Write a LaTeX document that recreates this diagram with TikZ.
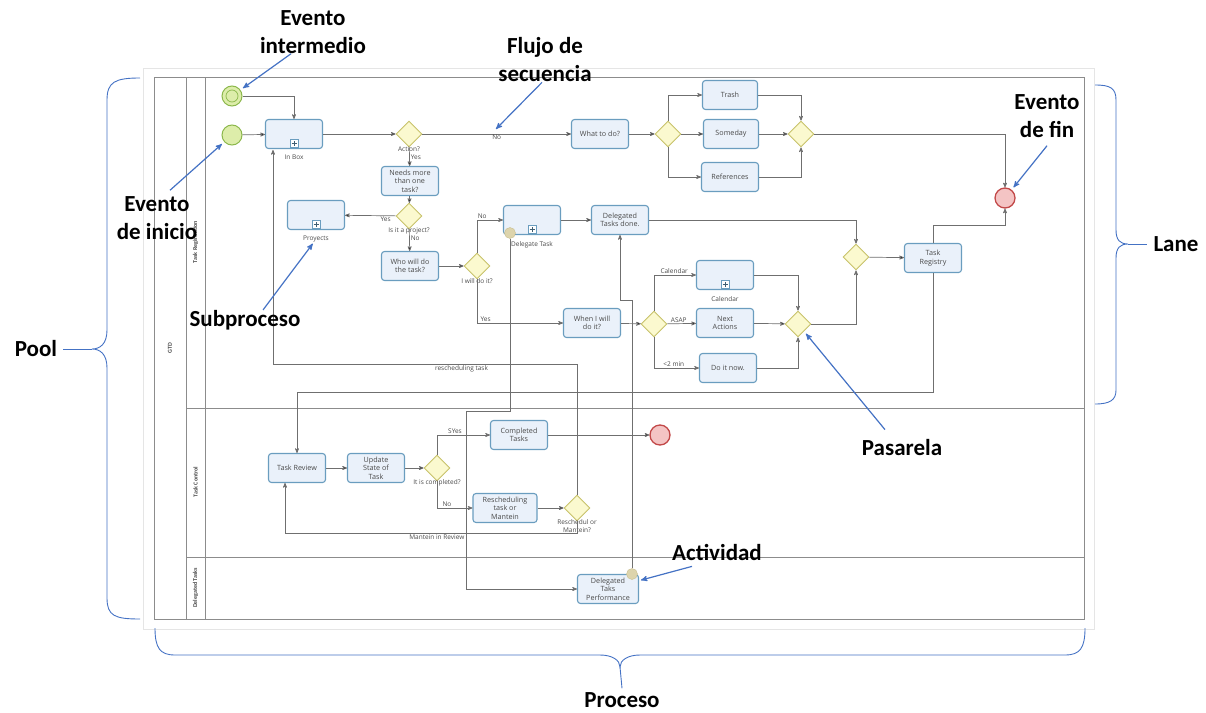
\documentclass[tikz,border=0pt]{standalone}
\usepackage{fontspec}
\setmainfont{Open Sans}
\newfontfamily\notefont{Carlito}
\usetikzlibrary{arrows,shapes.geometric,positioning}

\definecolor{taskline}{HTML}{6A9DBF}
\definecolor{taskfill}{HTML}{EAF1FA}
\definecolor{gwline}{HTML}{C8C26A}
\definecolor{gwfill}{HTML}{FBF9CF}
\definecolor{flowc}{HTML}{6F6F6F}
\definecolor{startline}{HTML}{8CB84C}
\definecolor{startfill}{HTML}{DDEDAA}
\definecolor{endline}{HTML}{C24848}
\definecolor{endfill}{HTML}{F4C4C4}
\definecolor{bndline}{HTML}{C9BE8E}
\definecolor{bndfill}{HTML}{DDD4AC}
\definecolor{noteblue}{HTML}{4472C4}
\definecolor{poolc}{HTML}{8C8C8C}
\definecolor{txt}{HTML}{4A4A4A}

\tikzset{
  task/.style={rectangle, rounded corners=3pt, draw=taskline, line width=1.1pt,
    fill=taskfill, minimum width=57pt, minimum height=29pt, inner sep=1pt,
    align=center, font=\fontsize{7.2}{8.4}\selectfont, text=txt},
  subproc/.style={task, path picture={
    \draw[sharp corners, taskline, fill=white, line width=0.6pt]
      ([xshift=-4pt,yshift=1.5pt]path picture bounding box.south) rectangle ++(8pt,8pt);
    \draw[sharp corners, taskline!60!black, line width=0.7pt]
      ([yshift=3pt]path picture bounding box.south) -- ++(0pt,5pt)
      ([xshift=-2.5pt,yshift=5.5pt]path picture bounding box.south) -- ++(5pt,0pt);}},
  gw/.style={diamond, draw=gwline, fill=gwfill, line width=0.9pt,
    minimum width=26pt, minimum height=26pt, inner sep=0pt},
  startev/.style={circle, draw=startline, fill=startfill, line width=1pt,
    minimum size=20pt, inner sep=0pt},
  endev/.style={circle, draw=endline, fill=endfill, line width=1.3pt,
    minimum size=20pt, inner sep=0pt},
  bnd/.style={circle, draw=bndline, fill=bndfill, minimum size=11pt, inner sep=0pt},
  lbl/.style={font=\fontsize{6.5}{7.5}\selectfont, text=txt, inner sep=1pt, align=center},
  flow/.style={->, >=stealth', draw=flowc, line width=0.7pt},
  note/.style={font=\notefont\bfseries\fontsize{23}{28}\selectfont, align=center, inner sep=0pt},
  callout/.style={->, >=stealth', draw=noteblue, line width=1.2pt},
  brace/.style={draw=noteblue, line width=0.9pt},
  lanelbl/.style={rotate=90, font=\notefont\bfseries\fontsize{6}{7}\selectfont, text=txt},
}

\begin{document}
\begin{tikzpicture}[x=1pt,y=-1pt]
\useasboundingbox (0,0) rectangle (1206,712);

% pool and lanes
\draw[black!10] (143,68) rectangle (1094,629);
\draw[poolc, line width=0.8pt] (154,77) rectangle (1084,619);
\draw[poolc, line width=0.8pt] (186,77) -- (186,619) (205,77) -- (205,619);
\draw[poolc, line width=0.8pt] (186,408) -- (1084,408) (186,557) -- (1084,557);
\node[lanelbl] (gtd) at (170,348) {GTD};
\node[lanelbl] (laneReg) at (195.5,242) {Task Registration};
\node[lanelbl] (laneCtl) at (195.5,482) {Task Control};
\node[lanelbl] (laneDel) at (195.5,588) {Delegated Tasks};

% lane: task registration
\node[startev] (mid) at (232,96) {};
\node[circle, draw=startline, line width=0.7pt, minimum size=12pt, inner sep=0pt] (midIn) at (mid) {};
\node[startev] (start) at (232,135) {};
\node[subproc] (inbox) at (294,134) {};
\node[lbl, below=5pt of inbox] (lInbox) {In Box};
\node[gw] (gAction) at (409,134) {};
\node[lbl, below=-2pt of gAction] (lAction) {Action?};
\node[task] (needs) at (410,181) {Needs more\\than one\\task?};
\node[gw] (gProj) at (409,216) {};
\node[lbl, below=-3pt of gProj] (lProj) {Is it a project?};
\node[subproc] (proy) at (316,215) {};
\node[lbl, below=5pt of proy] (lProy) {Proyects};
\node[task] (who) at (410,266) {Who will do\\the task?};
\node[gw] (gDo) at (477,266) {};
\node[lbl, below=-2pt of gDo] (lDo) {I will do it?};
\node[subproc] (deleg) at (532,220) {};
\node[bnd] (bDeleg) at (510,233) {};
\node[lbl, below=5pt of deleg] (lDeleg) {Delegate Task};
\node[task] (dtd) at (620,220) {Delegated\\Tasks done.};
\node[task] (when) at (592,323) {When I will\\do it?};
\node[gw] (gWhen) at (654,324) {};
\node[subproc] (cal) at (725,275) {};
\node[lbl, below=5pt of cal] (lCal) {Calendar};
\node[task] (next) at (725,323) {Next\\Actions};
\node[task] (doit) at (728,368) {Do it now.};
\node[gw] (gJoin) at (798,324) {};
\node[gw] (gReg) at (856,257) {};
\node[task] (reg) at (933,258) {Task\\Registry};
\node[task] (what) at (600,134) {What to do?};
\node[gw] (gWhat) at (668,134) {};
\node[task, minimum width=55pt] (trash) at (730,95) {Trash};
\node[task, minimum width=55pt] (someday) at (731,134) {Someday};
\node[task] (refs) at (730,177) {References};
\node[gw] (gCollect) at (801,134) {};
\node[endev] (endA) at (1005,198) {};

% lane: task control
\node[task] (review) at (297,468) {Task Review};
\node[task] (update) at (376,468) {Update\\State of\\Task};
\node[gw] (gComp) at (437,468) {};
\node[lbl, below=-3pt of gComp] (lComp) {It is completed?};
\node[task] (compl) at (519,435) {Completed\\Tasks};
\node[endev] (endB) at (660,435) {};
\node[task, minimum width=64pt] (resch) at (505,508) {Rescheduling\\task or\\Mantein};
\node[gw] (gResch) at (577,508) {};
\node[lbl, below=-3pt of gResch] (lResch) {Reschedul or\\Mantein?};

% lane: delegated tasks
\node[task, minimum width=61pt] (dtp) at (608,589) {Delegated\\Taks\\Performance};
\node[bnd] (bDtp) at (632,574) {};

% bends
\coordinate (kReg) at (933,225);
\coordinate (kBack) at (933,392);
\coordinate (kResch) at (577,364);
\coordinate (kInbox) at (273,150);
\coordinate (kMant) at (577,533);
\coordinate (kReview) at (285,483);
\coordinate (kDel1) at (510,411);
\coordinate (kDel2) at (466,411);
\coordinate (kDtp1) at (632,300);
\coordinate (kDtp2) at (620,300);
\coordinate (kFlujo) at (496,129);

\path[flow]
  (start) edge (inbox)
  (inbox) edge (gAction)
  (gAction) edge node[lbl, below] {No} (what)
  (gAction) edge node[lbl, right, pos=0.55] {Yes} (needs)
  (needs) edge (gProj)
  (gProj) edge node[lbl, below, pos=0.2] {Yes} (proy)
  (gProj) edge node[lbl, right, pos=0.4] {No} (who)
  (who) edge (gDo)
  (deleg) edge (dtd)
  (when) edge (gWhen)
  (gWhen) edge node[lbl, above, pos=0.4] {ASAP} (next)
  (next) edge (gJoin)
  (gReg) edge (reg)
  (what) edge (gWhat)
  (gWhat) edge (someday)
  (someday) edge (gCollect)
  (review) edge (update)
  (update) edge (gComp)
  (compl) edge (endB)
  (resch) edge (gResch);

\draw[flow] (mid) -| (inbox);
\draw[flow] (gDo) |- node[lbl, above, pos=0.6] {No} (deleg);
\draw[flow] (gDo) |- node[lbl, above, pos=0.55] {Yes} (when);
\draw[flow] (dtd) -| (gReg);
\draw[flow] (gWhen) |- node[lbl, above, pos=0.74] {Calendar} (cal);
\draw[flow] (gWhen) |- node[lbl, above, pos=0.72] {<2 min} (doit);
\draw[flow] (cal) -| (gJoin);
\draw[flow] (doit) -| (gJoin);
\draw[flow] (gJoin) -| (gReg);
\draw[flow] (reg) -- (kReg) -| (endA);
\draw[flow] (gWhat) |- (trash);
\draw[flow] (gWhat) |- (refs);
\draw[flow] (trash) -| (gCollect);
\draw[flow] (refs) -| (gCollect);
\draw[flow] (gCollect) -| (endA);
\draw[flow] (reg) -- (kBack) -| (review);
\draw[flow] (gComp) |- node[lbl, above, pos=0.67] {SYes} (compl);
\draw[flow] (gComp) |- node[lbl, above, pos=0.64] {No} (resch);
\draw[flow] (gResch) -- (kResch) -| node[lbl, below, pos=0.19] {rescheduling task} (kInbox);
\draw[flow] (gResch) -- (kMant) -| node[lbl, below, pos=0.24] {Mantein in Review} (kReview);
\draw[flow] (bDeleg) -- (kDel1) -- (kDel2) |- (dtp);
\draw[flow] (bDtp) -- (kDtp1) -- (kDtp2) -- (dtd);

% notes
\node[note] (nInter) at (313,32) {Evento\\intermedio};
\node[note] (nFlujo) at (545,60) {Flujo de\\secuencia};
\node[note] (nFin) at (1047,116) {Evento\\de fin};
\node[note] (nInicio) at (157,218) {Evento\\de inicio};
\node[note] (nSub) at (245,320) {Subproceso};
\node[note] (nPas) at (902,448) {Pasarela};
\node[note] (nAct) at (717,552) {Actividad};
\node[note] (nPool) at (36,349) {Pool};
\node[note] (nLane) at (1176,244) {Lane};
\node[note] (nProc) at (622,700) {Proceso};

\draw[callout, shorten >=3pt] ([xshift=-22pt]nInter.south) -- (mid);
\draw[callout] ([xshift=-3pt]nFlujo.south) -- (kFlujo);
\draw[callout, shorten >=3pt] ([yshift=-8pt]nFin.south) -- (endA);
\draw[callout, shorten >=3pt] ([xshift=13pt,yshift=6pt]nInicio.north) -- (start);
\draw[callout] ([xshift=18pt]nSub.north) -- (lProy);
\draw[callout, shorten >=3pt] ([xshift=-17pt,yshift=10pt]nPas.north) -- (gJoin);
\draw[callout, shorten >=2pt] ([xshift=-25pt,yshift=-6pt]nAct.south) -- (dtp);

% braces
\coordinate (kPoolTip) at (92,349);
\coordinate (kLaneTip) at (1128,244);
\coordinate (kProcTip) at (620,667);
\draw[brace] (140,78) .. controls (115,78) and (107,82) .. (107,100) -- (107,330)
  .. controls (107,344) and (100,349) .. (kPoolTip)
  .. controls (100,349) and (107,354) .. (107,368) -- (107,598)
  .. controls (107,616) and (115,619) .. (140,619);
\draw[brace] ([xshift=6pt]nPool.east) -- (kPoolTip);
\draw[brace] (1095,85) .. controls (1110,85) and (1116,88) .. (1116,100) -- (1116,230)
  .. controls (1116,240) and (1120,244) .. (kLaneTip)
  .. controls (1120,244) and (1116,248) .. (1116,258) -- (1116,390)
  .. controls (1116,400) and (1110,404) .. (1095,404);
\draw[brace] (kLaneTip) -- ([xshift=-6pt]nLane.west);
\draw[brace] (155,628) .. controls (155,648) and (160,655) .. (175,655) -- (600,655)
  .. controls (612,655) and (620,660) .. (kProcTip)
  .. controls (620,660) and (628,655) .. (640,655) -- (1065,655)
  .. controls (1080,655) and (1085,648) .. (1085,628);
\draw[brace] (kProcTip) -- ([yshift=4pt]nProc.north);
\end{tikzpicture}
\end{document}
